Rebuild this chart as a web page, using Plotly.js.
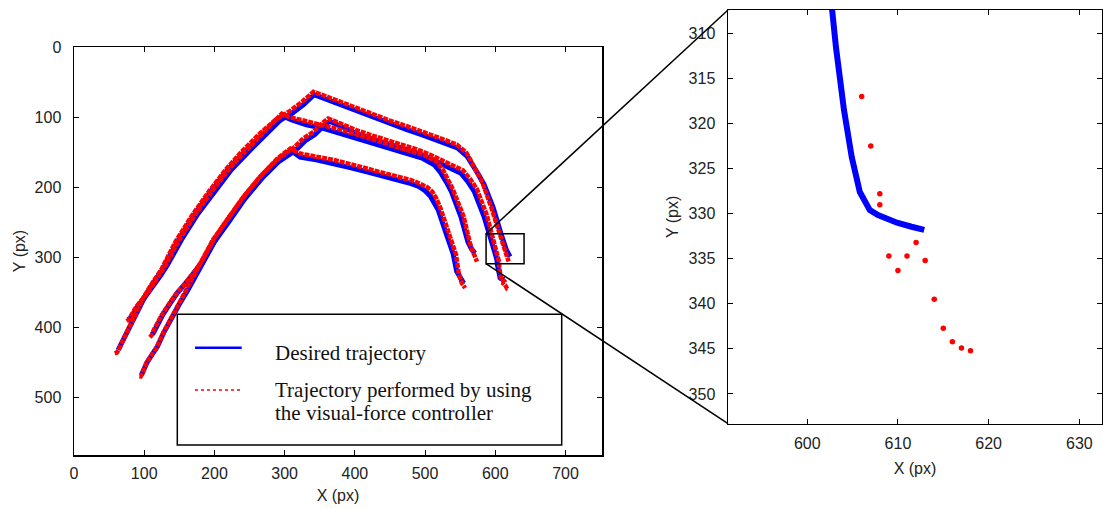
<!DOCTYPE html>
<html><head><meta charset="utf-8">
<script src="https://cdn.plot.ly/plotly-3.0.1.min.js"></script>
<style>html,body{margin:0;padding:0;background:#fff}#chart{width:1103px;height:509px}</style>
</head><body><div id="chart"></div>
<script>
// ---- Data (image coordinates, px) ----
// Trajectory 1
var t1DesX = [63, 67, 73, 80, 90, 101, 114, 126, 147, 171, 195, 218, 242, 266, 289, 310, 327, 342, 358, 379, 402, 426, 450, 474, 498, 521, 546, 560, 566, 575, 584, 597, 608, 616, 621];
var t1DesY = [432, 424, 412, 398, 378, 356, 335, 318, 278, 240, 206, 176, 150, 127, 107, 95, 82, 68, 74, 82, 92, 101, 110, 118, 126, 134, 144, 156, 165, 180, 196, 229, 266, 290, 299];
var t1PerX = [58, 61, 64, 68, 76, 86, 99, 112, 124, 145, 169, 193, 216, 240, 264, 287, 308, 325, 341, 358, 379, 402, 426, 450, 474, 498, 521, 545, 559, 564, 573, 582, 594, 606, 614, 619];
var t1PerY = [437, 436, 431, 421, 405, 385, 357, 336, 318, 277, 239, 205, 175, 148, 124, 104, 91, 78, 64, 70, 78, 88, 97, 105, 113, 121, 130, 139, 151, 160, 177, 194, 228, 266, 292, 306];
// Trajectory 2
var t2DesX = [77, 80, 85, 92, 101, 112, 124, 133, 153, 177, 201, 224, 248, 271, 291, 299, 310, 331, 355, 379, 403, 427, 450, 474, 497, 513, 522, 530, 537, 551, 561, 566, 571];
var t2DesY = [389, 387, 380, 368, 357, 343, 325, 311, 275, 237, 204, 175, 150, 127, 107, 99, 104, 111, 116, 123, 130, 138, 145, 152, 159, 168, 179, 192, 205, 242, 278, 288, 294];
var t2PerX = [75, 78, 82, 89, 98, 109, 121, 130, 150, 174, 198, 221, 245, 268, 287, 296, 307, 331, 355, 379, 403, 427, 450, 474, 498, 516, 526, 533, 540, 555, 564, 569, 574];
var t2PerY = [391, 389, 382, 370, 359, 345, 326, 312, 275, 237, 204, 174, 148, 124, 104, 95, 100, 106, 111, 118, 125, 133, 140, 147, 154, 163, 176, 190, 204, 242, 280, 294, 306];
// Trajectory 3 (the one shown in the zoom)
var t3DesX = [96, 99, 104, 111, 119, 128, 138, 150, 162, 172, 182, 200, 220, 243, 267, 291, 310, 317, 329, 343, 354, 364, 380, 404, 428, 450, 469, 488, 507, 524, 540, 551, 561, 570, 584, 595, 600.5, 602.3, 603.16, 604.05, 604.9, 605.8, 606.9, 607.8, 609.9, 611.5, 612.9];
var t3DesY = [468, 461, 450, 439, 427, 407, 388, 367, 347, 329, 311, 278, 250, 217, 188, 164, 151, 146, 134, 125, 114, 106, 113, 124, 132, 139, 145, 151, 159, 167, 174, 180, 192, 206, 242, 276, 292, 303, 311.5, 318.5, 323.7, 327.6, 329.6, 330.15, 331.0, 331.45, 331.8];
var t3PerX = [93, 95, 98, 103, 110, 118, 127, 137, 148, 160, 170, 180, 198, 218, 241, 265, 289, 308, 315, 327, 341, 352, 362, 379, 403, 427, 450, 469, 488, 508, 526, 543, 554, 564, 574, 588, 598, 603, 605, 606, 607, 608, 608, 612, 609, 611, 613, 610, 614, 615, 616, 617, 618];
var t3PerY = [470, 470, 465, 451, 440, 428, 408, 389, 368, 347, 328, 309, 275, 247, 214, 185, 161, 147, 142, 130, 121, 110, 102, 109, 119, 127, 134, 140, 146, 154, 162, 170, 176, 188, 203, 240, 275, 294, 305, 317, 322.5, 327.8, 329, 333.2, 334.7, 334.7, 335.2, 336.3, 339.5, 342.7, 344.2, 344.9, 345.2];
// Trajectory 4
var t4DesX = [111, 113, 116, 120, 127, 136, 147, 159, 173, 184, 203, 222, 246, 270, 293, 303, 311, 322, 345, 369, 393, 417, 441, 464, 480, 491, 500, 507, 513, 519, 530, 540, 545, 550, 555];
var t4DesY = [410, 408, 402, 393, 381, 367, 351, 337, 320, 305, 272, 244, 212, 184, 161, 153, 149, 157, 161, 166, 172, 178, 184, 190, 195, 199, 205, 212, 221, 233, 266, 295, 320, 330, 337];
var t4PerX = [108, 110, 113, 117, 124, 133, 144, 156, 170, 181, 200, 219, 243, 267, 290, 300, 308, 322, 345, 369, 393, 417, 441, 464, 480, 493, 503, 510, 516, 522, 534, 544, 548, 552, 557];
var t4PerY = [414, 412, 405, 396, 384, 370, 354, 340, 323, 307, 273, 245, 212, 183, 159, 151, 145, 152, 156, 161, 167, 173, 179, 185, 190, 195, 200, 206, 216, 230, 266, 296, 323, 336, 344];

var xTicksMain = [0, 100, 200, 300, 400, 500, 600, 700];
var yTicksMain = [0, 100, 200, 300, 400, 500];
var xTicksZoom = [600, 610, 620, 630];
var yTicksZoom = [310, 315, 320, 325, 330, 335, 340, 345, 350];
var legendLabels = ['Desired trajectory', 'Trajectory performed by using', 'the visual-force controller'];

// ---- Traces ----
var BLUE = '#0000ff', RED = '#ff0000';
var des = [[t1DesX, t1DesY], [t2DesX, t2DesY], [t3DesX, t3DesY], [t4DesX, t4DesY]];
var per = [[t1PerX, t1PerY], [t2PerX, t2PerY], [t3PerX, t3PerY], [t4PerX, t4PerY]];
var traces = [];
des.forEach(function (d) {
  traces.push({x: d[0], y: d[1], xaxis: 'x', yaxis: 'y', type: 'scatter', mode: 'lines',
    line: {color: BLUE, width: 5}, hoverinfo: 'skip'});
});
per.forEach(function (d) {
  traces.push({x: d[0], y: d[1], xaxis: 'x', yaxis: 'y', type: 'scatter', mode: 'lines',
    line: {color: RED, width: 4.5, dash: '5px,1px'}, hoverinfo: 'skip'});
});
// zoomed view of trajectory 3
traces.push({x: t3DesX, y: t3DesY, xaxis: 'x2', yaxis: 'y2', type: 'scatter', mode: 'lines',
  line: {color: BLUE, width: 6}, hoverinfo: 'skip'});
traces.push({x: t3PerX, y: t3PerY, xaxis: 'x2', yaxis: 'y2', type: 'scatter', mode: 'markers',
  marker: {color: RED, size: 5.5}, hoverinfo: 'skip'});

// ---- Layout ----
var W = 1103, H = 509, ML = 74, MR = 1, MT = 10, MB = 54;
var PW = W - ML - MR, PH = H - MT - MB;
function px(x) { return (x - ML) / PW; }
function py(y) { return (H - MB - y) / PH; }

var axCommon = {
  showgrid: false, zeroline: false, showline: true, linecolor: '#000', linewidth: 1.5,
  mirror: 'ticks', ticks: 'inside', ticklen: 5, tickwidth: 1, tickcolor: '#000',
  tickfont: {family: 'Liberation Sans, Arial, sans-serif', size: 16, color: '#222'},
  fixedrange: true
};
function ax(extra) { return Object.assign({}, axCommon, extra); }

var layout = {
  width: W, height: H,
  margin: {l: ML, r: MR, t: MT, b: MB, pad: 0},
  paper_bgcolor: '#fff', plot_bgcolor: '#fff',
  showlegend: false,
  font: {family: 'Liberation Sans, Arial, sans-serif', size: 16, color: '#222'},
  xaxis: ax({domain: [0, px(602)], range: [0, 752], anchor: 'y', tickmode: 'array', tickvals: xTicksMain,
    ticklabelstandoff: 3, title: {text: 'X (px)', standoff: 9, font: {size: 16}}}),
  yaxis: ax({domain: [py(455), py(47)], range: [582, 0], anchor: 'x', tickmode: 'array', tickvals: yTicksMain,
    ticklabelstandoff: 8, title: {text: 'Y (px)', standoff: 5, font: {size: 16}}}),
  xaxis2: ax({domain: [px(728), px(1102)], range: [591.26, 632.5], anchor: 'y2', tickmode: 'array', tickvals: xTicksZoom,
    ticklabelstandoff: 5, title: {text: 'X (px)', standoff: 11, font: {size: 16}}}),
  yaxis2: ax({domain: [py(423.7), py(10)], range: [353.3, 307.4], anchor: 'x2', tickmode: 'array', tickvals: yTicksZoom,
    ticklabelstandoff: 8, title: {text: 'Y (px)', standoff: 5.5, font: {size: 16}}}),
  shapes: [
    // zoom region box on main plot
    {type: 'rect', xref: 'x', yref: 'y', x0: 586.9, x1: 641, y0: 266.3, y1: 309.1,
      line: {color: '#000', width: 1.5}},
    // connector lines
    {type: 'line', xref: 'paper', yref: 'paper', x0: px(486), y0: py(233.7), x1: px(728), y1: py(10),
      line: {color: '#000', width: 1.5}},
    {type: 'line', xref: 'paper', yref: 'paper', x0: px(486), y0: py(263.7), x1: px(728), y1: py(423.7),
      line: {color: '#000', width: 1.5}},
    // legend box
    {type: 'rect', xref: 'paper', yref: 'paper', x0: px(177.3), x1: px(561.7), y0: py(445), y1: py(314.3),
      line: {color: '#000', width: 1.5}, fillcolor: '#fff', layer: 'above'},
    {type: 'line', xref: 'paper', yref: 'paper', x0: px(195), x1: px(241.7), y0: py(347.7), y1: py(347.7),
      line: {color: BLUE, width: 2.5}},
    {type: 'line', xref: 'paper', yref: 'paper', x0: px(195), x1: px(241.7), y0: py(390), y1: py(390),
      line: {color: RED, width: 1.5, dash: 'dot'}}
  ],
  annotations: [
    {xref: 'paper', yref: 'paper', x: px(273), y: py(353), xanchor: 'left', yanchor: 'middle', showarrow: false,
      text: legendLabels[0], font: {family: 'Liberation Serif, Times New Roman, serif', size: 21, color: '#111'}},
    {xref: 'paper', yref: 'paper', x: px(273), y: py(389.5), xanchor: 'left', yanchor: 'middle', showarrow: false,
      text: legendLabels[1], font: {family: 'Liberation Serif, Times New Roman, serif', size: 21, color: '#111'}},
    {xref: 'paper', yref: 'paper', x: px(273), y: py(412.5), xanchor: 'left', yanchor: 'middle', showarrow: false,
      text: legendLabels[2], font: {family: 'Liberation Serif, Times New Roman, serif', size: 21, color: '#111'}}
  ]
};

Plotly.newPlot('chart', traces, layout, {staticPlot: true, displayModeBar: false});
</script></body></html>
